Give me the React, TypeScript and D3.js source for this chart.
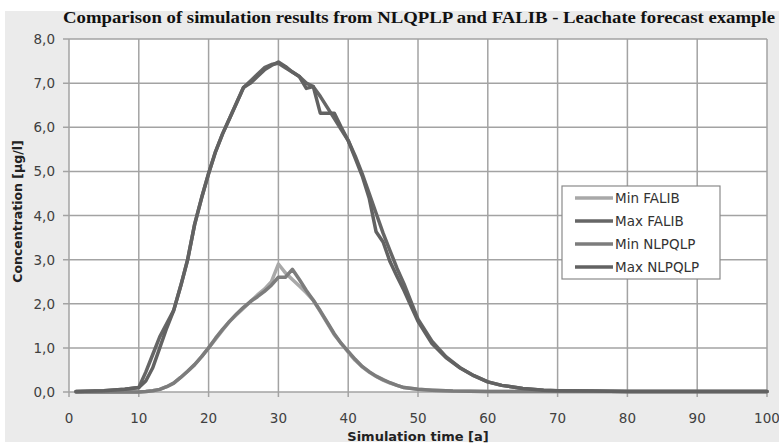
import * as React from "react";
import * as d3 from "d3";

const W = 779;
const H = 446;

const title = "Comparison of simulation results from NLQPLP and FALIB - Leachate forecast example";
const xTitle = "Simulation time [a]";
const yTitle = "Concentration [µg/l]";
const xTicks = [0, 10, 20, 30, 40, 50, 60, 70, 80, 90, 100];
const yTicks = [0, 1, 2, 3, 4, 5, 6, 7, 8];

const seriesNames = ["Min FALIB", "Max FALIB", "Min NLPQLP", "Max NLPQLP"];
const seriesColors = ["#a8a8a8", "#666666", "#7c7c7c", "#626262"];

// time points [a]
const minFalibT = [1, 5, 10, 11, 12, 13, 14, 15, 16, 17, 18, 19, 20, 21, 22, 23, 24, 25, 26, 27, 28, 29, 30, 31, 32, 33, 34, 35, 36, 37, 38, 39, 40, 41, 42, 43, 44, 45, 46, 47, 48, 50, 52, 55, 60, 70, 100];
const minFalibC = [0, 0, 0, 0.01, 0.03, 0.06, 0.12, 0.2, 0.33, 0.47, 0.62, 0.8, 1.0, 1.2, 1.4, 1.6, 1.75, 1.9, 2.05, 2.2, 2.33, 2.5, 2.9, 2.7, 2.55, 2.4, 2.25, 2.08, 1.82, 1.56, 1.3, 1.1, 0.9, 0.72, 0.57, 0.45, 0.35, 0.27, 0.2, 0.15, 0.1, 0.06, 0.04, 0.02, 0.01, 0.01, 0.01];

const maxFalibT = [1, 5, 8, 10, 11, 12, 13, 14, 15, 16, 17, 18, 19, 20, 21, 22, 23, 24, 25, 26, 27, 28, 29, 30, 31, 32, 33, 34, 35, 36, 37, 38, 39, 40, 41, 42, 43, 44, 45, 46, 47, 48, 49, 50, 52, 54, 56, 58, 60, 62, 65, 68, 70, 75, 80, 90, 100];
const maxFalibC = [0.01, 0.03, 0.06, 0.1, 0.45, 0.85, 1.25, 1.55, 1.85, 2.4, 3.0, 3.8, 4.4, 4.95, 5.45, 5.85, 6.2, 6.55, 6.9, 7.05, 7.2, 7.35, 7.42, 7.45, 7.35, 7.25, 7.15, 7.0, 6.92, 6.7, 6.45, 6.2, 5.95, 5.7, 5.35, 4.95, 4.5, 4.05, 3.6, 3.2, 2.8, 2.45, 2.05, 1.65, 1.15, 0.8, 0.55, 0.37, 0.23, 0.15, 0.08, 0.04, 0.03, 0.02, 0.01, 0.01, 0.01];

const minNlpqlpT = [1, 5, 10, 11, 12, 13, 14, 15, 16, 17, 18, 19, 20, 21, 22, 23, 24, 25, 26, 27, 28, 29, 30, 31, 32, 33, 34, 35, 36, 37, 38, 39, 40, 41, 42, 43, 44, 45, 46, 47, 48, 50, 52, 55, 60, 70, 100];
const minNlpqlpC = [0, 0, 0, 0.01, 0.03, 0.06, 0.12, 0.2, 0.33, 0.47, 0.62, 0.8, 1.0, 1.22, 1.42, 1.6, 1.77, 1.92, 2.05, 2.16, 2.28, 2.42, 2.6, 2.6, 2.78, 2.55, 2.3, 2.08, 1.84, 1.58, 1.32, 1.1, 0.92, 0.74, 0.58, 0.46, 0.36, 0.28, 0.21, 0.15, 0.1, 0.06, 0.04, 0.02, 0.01, 0.01, 0.01];

const maxNlpqlpT = [1, 5, 8, 10, 11, 12, 13, 14, 15, 16, 17, 18, 19, 20, 21, 22, 23, 24, 25, 26, 27, 28, 29, 30, 31, 32, 33, 34, 35, 36, 37, 38, 39, 40, 41, 42, 43, 44, 45, 46, 47, 48, 49, 50, 52, 54, 56, 58, 60, 62, 65, 68, 70, 75, 80, 90, 100];
const maxNlpqlpC = [0.01, 0.03, 0.06, 0.1, 0.25, 0.55, 1.0, 1.45, 1.85, 2.4, 3.0, 3.8, 4.4, 4.95, 5.45, 5.85, 6.2, 6.55, 6.9, 7.0, 7.15, 7.3, 7.4, 7.48, 7.38, 7.25, 7.15, 6.88, 6.92, 6.32, 6.32, 6.32, 6.0, 5.7, 5.3, 4.9, 4.4, 3.63, 3.4, 2.95, 2.62, 2.3, 1.95, 1.6, 1.1, 0.78, 0.55, 0.37, 0.23, 0.15, 0.08, 0.04, 0.03, 0.02, 0.01, 0.01, 0.01];

const series = [
  { t: minFalibT, c: minFalibC },
  { t: maxFalibT, c: maxFalibC },
  { t: minNlpqlpT, c: minNlpqlpC },
  { t: maxNlpqlpT, c: maxNlpqlpC },
];

const margin = { top: 39, right: 12, bottom: 54, left: 69 };
const tickFont = "'DejaVu Sans', Verdana, sans-serif";

export default function App() {
  const ref = React.useRef<SVGSVGElement>(null);

  React.useEffect(() => {
    const svg = d3.select(ref.current);
    svg.selectAll("*").remove();

    const x = d3.scaleLinear().domain([0, 100]).range([margin.left, W - margin.right]);
    const y = d3.scaleLinear().domain([0, 8]).range([H - margin.bottom, margin.top]);
    const fmt = (v: number) => d3.format(".1f")(v).replace(".", ",");

    // outer grey frame
    svg.append("rect").attr("width", W).attr("height", H).attr("fill", "#ffffff");
    svg.append("rect")
      .attr("x", 5).attr("y", 11).attr("width", W - 5).attr("height", 431)
      .attr("fill", "#ebebeb");

    // plot area
    svg.append("rect")
      .attr("x", x(0)).attr("y", y(8))
      .attr("width", x(100) - x(0)).attr("height", y(0) - y(8))
      .attr("fill", "#ffffff");

    const grid = svg.append("g").attr("stroke", "#a3a3a3").attr("stroke-width", 1.5);
    grid.selectAll(".h").data(yTicks).join("line")
      .attr("x1", x(0) - 6).attr("x2", x(100))
      .attr("y1", (d) => y(d)).attr("y2", (d) => y(d));
    grid.selectAll(".v").data(xTicks).join("line")
      .attr("x1", (d) => x(d)).attr("x2", (d) => x(d))
      .attr("y1", y(8)).attr("y2", y(0) + 5);

    // y tick labels
    svg.append("g").selectAll("text").data(yTicks).join("text")
      .attr("x", 55).attr("y", (d) => y(d) + 5)
      .attr("text-anchor", "end")
      .attr("font-family", tickFont).attr("font-size", 13.5)
      .attr("fill", "#404040")
      .text((d) => fmt(d));

    // x tick labels
    svg.append("g").selectAll("text").data(xTicks).join("text")
      .attr("x", (d) => x(d)).attr("y", 423)
      .attr("text-anchor", "middle")
      .attr("font-family", tickFont).attr("font-size", 13.5)
      .attr("fill", "#404040")
      .text((d) => String(d));

    // lines
    const line = d3.line<[number, number]>()
      .x((d) => x(d[0]))
      .y((d) => y(d[1]));

    series.forEach((s, i) => {
      const pts = s.t.map((t, k) => [t, s.c[k]] as [number, number]);
      svg.append("path")
        .datum(pts)
        .attr("d", line)
        .attr("fill", "none")
        .attr("stroke", seriesColors[i])
        .attr("stroke-width", 3.5)
        .attr("stroke-linejoin", "round")
        .attr("stroke-linecap", "round");
    });

    // titles
    svg.append("text")
      .attr("x", 63).attr("y", 23)
      .attr("font-family", "'Liberation Serif', 'Times New Roman', serif")
      .attr("font-weight", "bold").attr("font-size", 16)
      .attr("textLength", 712).attr("lengthAdjust", "spacingAndGlyphs")
      .attr("fill", "#111")
      .text(title);

    svg.append("text")
      .attr("x", (x(0) + x(100)) / 2).attr("y", 441)
      .attr("text-anchor", "middle")
      .attr("font-family", tickFont).attr("font-weight", "bold").attr("font-size", 13)
      .attr("fill", "#222")
      .text(xTitle);

    svg.append("text")
      .attr("transform", `translate(22, ${(y(0) + y(8)) / 2 - 4}) rotate(-90)`)
      .attr("text-anchor", "middle")
      .attr("font-family", tickFont).attr("font-weight", "bold").attr("font-size", 12.5)
      .attr("fill", "#222")
      .text(yTitle);

    // legend
    const lg = svg.append("g");
    lg.append("rect")
      .attr("x", 562).attr("y", 186).attr("width", 158).attr("height", 93)
      .attr("fill", "#ffffff").attr("stroke", "#8a8a8a").attr("stroke-width", 1.2);
    seriesNames.forEach((name, i) => {
      const yy = 198 + i * 23;
      lg.append("line")
        .attr("x1", 575).attr("x2", 613).attr("y1", yy).attr("y2", yy)
        .attr("stroke", seriesColors[i]).attr("stroke-width", 3.5);
      lg.append("text")
        .attr("x", 615).attr("y", yy + 5)
        .attr("font-family", tickFont).attr("font-size", 13.5)
        .attr("fill", "#333")
        .text(name);
    });
  }, []);

  return (
    <svg
      ref={ref}
      width={W}
      height={H}
      style={{ position: "fixed", left: 0, top: 0 }}
    />
  );
}
